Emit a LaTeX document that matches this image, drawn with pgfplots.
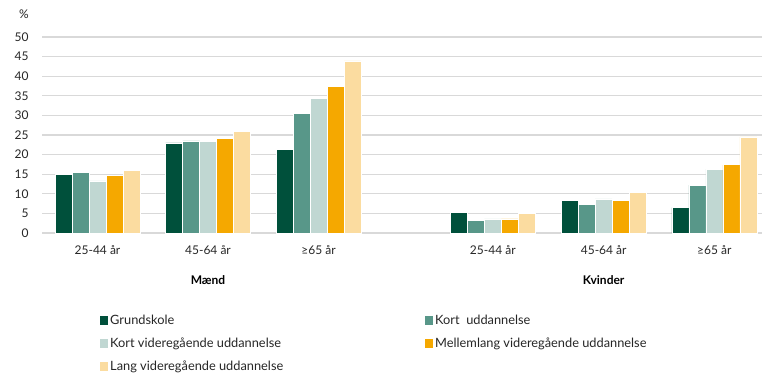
\documentclass[border=0pt]{standalone}
\usepackage{fontspec}
\setmainfont{Lato}
\usepackage{pgfplots}
\pgfplotsset{compat=1.18}
\definecolor{c1}{RGB}{0,80,59}
\definecolor{c2}{RGB}{88,151,137}
\definecolor{c3}{RGB}{192,215,210}
\definecolor{c4}{RGB}{245,168,0}
\definecolor{c5}{RGB}{251,220,160}
\definecolor{gridc}{RGB}{217,217,217}
\begin{document}
\begin{tikzpicture}[x=1pt,y=1pt]
\useasboundingbox (0,0) rectangle (762,376);
\begin{axis}[
  at={(42pt,143pt)}, anchor=south west,
  scale only axis, width=720pt, height=196pt,
  xmin=42, xmax=762, ymin=0, ymax=50,
  ytick={0,5,...,50},
  xtick={97.5,208,318.5,492.8,603.7,714.3},
  xticklabels={25-44 år,45-64 år,≥65 år,25-44 år,45-64 år,≥65 år},
  ymajorgrids, grid style={gridc, line width=1.3pt},
  axis line style={draw=none}, tick style={draw=none},
  ybar=0pt, bar width=17pt,
  /pgf/number format/assume math mode=true,
  tick label style={font=\fontsize{12}{14}\selectfont, text=black!85},
  xticklabel style={yshift=-5pt},
  yticklabel style={xshift=-10pt},
  clip=false,
  legend columns=2,
  legend cell align=left,
  legend style={at={(0.0764,-0.395)}, anchor=north west, draw=none, fill=none,
    font=\fontsize{12.8}{14}\selectfont, row sep=8pt, text=black!85,
    /tikz/every odd column/.append style={column sep=0pt}},
  legend image code/.code={\fill[#1,draw=none] (0pt,-4.5pt) rectangle (8pt,4.5pt);},
  every axis plot/.append style={draw=white, line width=0.6pt},
]
\addplot[fill=c1] coordinates {(97.5,15.0) (208,23.0) (318.5,21.4) (492.8,5.2) (603.7,8.4) (714.3,6.5)};
\addplot[fill=c2] coordinates {(97.5,15.4) (208,23.5) (318.5,30.6) (492.8,3.3) (603.7,7.3) (714.3,12.2)};
\addplot[fill=c3] coordinates {(97.5,13.3) (208,23.4) (318.5,34.3) (492.8,3.6) (603.7,8.7) (714.3,16.3)};
\addplot[fill=c4] coordinates {(97.5,14.6) (208,24.2) (318.5,37.5) (492.8,3.6) (603.7,8.4) (714.3,17.4)};
\addplot[fill=c5] coordinates {(97.5,15.9) (208,25.9) (318.5,43.9) (492.8,5.0) (603.7,10.3) (714.3,24.5)};
\legend{\makebox[313pt][l]{Grundskole},Kort\ \ uddannelse,\makebox[313pt][l]{Kort videregående uddannelse},Mellemlang videregående uddannelse,\makebox[313pt][l]{Lang videregående uddannelse}}
\node[font=\bfseries\fontsize{12}{14}\selectfont] at (axis cs:208,0) [yshift=-47pt] {Mænd};
\node[font=\bfseries\fontsize{12}{14}\selectfont] at (axis cs:603.7,0) [yshift=-47pt] {Kvinder};
\node[font=\fontsize{12}{14}\selectfont, text=black!85] at (rel axis cs:0,1) [xshift=-18pt,yshift=23pt] {\%};
\end{axis}
\end{tikzpicture}
\end{document}
